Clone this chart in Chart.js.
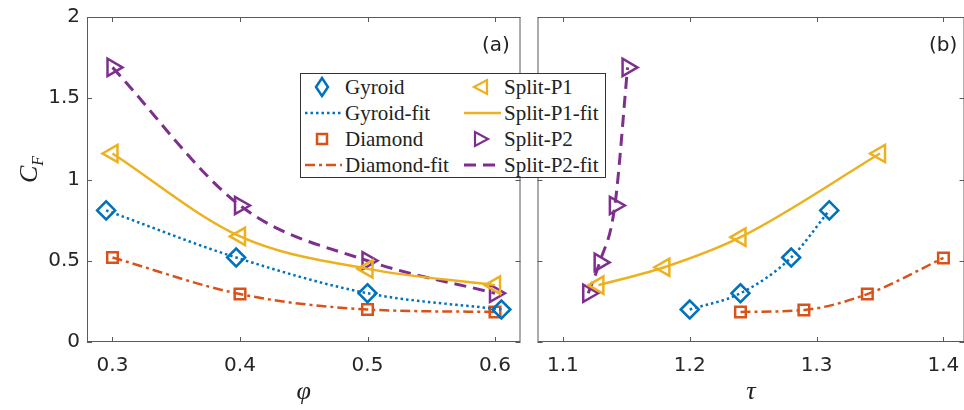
<!DOCTYPE html>
<html>
<head>
<meta charset="utf-8">
<script src="https://cdn.jsdelivr.net/npm/chart.js@4.4.0/dist/chart.umd.min.js"></script>
<style>
  html, body { margin: 0; padding: 0; background: #fff; }
  #wrap { position: relative; width: 964px; height: 410px; overflow: hidden; }
  canvas { position: absolute; top: 0; }
  #cA { left: 0px; }
  #cB { left: 529px; }
  .lab { position: absolute; font-family: "DejaVu Sans", sans-serif; font-size: 20px; color: #222; }
  #ytitle { position: absolute; left: 9px; top: 148px; width: 40px; height: 30px;
    transform: rotate(-90deg); transform-origin: center; font-family: "Liberation Serif", serif;
    font-style: italic; font-size: 26px; color: #222; white-space: nowrap; }
  #ytitle sub { font-size: 16px; }
  #legend { position: absolute; left: 300px; top: 73px; width: 304px; height: 103px;
    border: 1px solid #333; background: #fff; font-family: "Liberation Serif", serif;
    font-size: 21px; color: #222; z-index: 5; }
  .row { position: absolute; height: 26px; line-height: 26px; white-space: nowrap; }
  .row svg { position: absolute; top: 0; left: 0; }
  .row span { position: absolute; top: 0; }
</style>
</head>
<body>
<div id="wrap">
  <canvas id="cA" width="529" height="410"></canvas>
  <canvas id="cB" width="435" height="410"></canvas>
  <div class="lab" style="left:482px; top:32px;">(a)</div>
  <div class="lab" style="left:929px; top:32px;">(b)</div>
  <div id="ytitle">C<sub>F</sub></div>
  <div id="legend"></div>
</div>
<script>
// panel (a): C_F against porosity phi
const phiGyroid = [0.295, 0.397, 0.5, 0.605];
const phiDiamond = [0.3, 0.4, 0.5, 0.6];
const phiSplitP1 = [0.3, 0.4, 0.5, 0.6];
const phiSplitP2 = [0.3, 0.4, 0.5, 0.6];
const cfGyroidA = [0.81, 0.52, 0.30, 0.20];
const cfDiamondA = [0.52, 0.295, 0.20, 0.185];
const cfSplitP1A = [1.16, 0.65, 0.45, 0.35];
const cfSplitP2A = [1.69, 0.84, 0.50, 0.30];

// panel (b): C_F against tortuosity tau
const tauGyroid = [1.20, 1.24, 1.28, 1.31];
const tauDiamond = [1.24, 1.29, 1.34, 1.40];
const tauSplitP1 = [1.128, 1.18, 1.24, 1.35];
const tauSplitP2 = [1.12, 1.129, 1.141, 1.151];
const cfGyroidB = [0.20, 0.30, 0.52, 0.81];
const cfDiamondB = [0.185, 0.197, 0.295, 0.517];
const cfSplitP1B = [0.35, 0.46, 0.645, 1.16];
const cfSplitP2B = [0.30, 0.49, 0.84, 1.69];

const yTicks = [0, 0.5, 1, 1.5, 2];

const BLUE = "#0072BD", RED = "#D95319", YELLOW = "#EDB120", PURPLE = "#7E2F8E";

const series = [
  { name: "Gyroid", color: BLUE, style: "rectRot", radius: 9, rot: 0, dash: [2.5, 3], width: 2.5 },
  { name: "Diamond", color: RED, style: "rect", radius: 7.5, rot: 0, dash: [10, 4, 3, 4], width: 2.5 },
  { name: "Split-P1", color: YELLOW, style: "triangle", radius: 10, rot: -90, dash: [], width: 2.5 },
  { name: "Split-P2", color: PURPLE, style: "triangle", radius: 10, rot: 90, dash: [12, 7], width: 3 },
];

function makeData(xs, ys) {
  return xs.map((x, i) => ({ x: x, y: ys[i] }));
}

function makeDatasets(pairs) {
  return series.map((s, i) => ({
    label: s.name,
    data: makeData(pairs[i][0], pairs[i][1]),
    showLine: true,
    cubicInterpolationMode: "monotone",
    borderColor: s.color,
    borderWidth: s.width,
    borderDash: s.dash,
    pointStyle: s.style,
    pointRadius: s.radius,
    pointRotation: s.rot,
    pointBorderColor: s.color,
    pointBackgroundColor: "rgba(0,0,0,0)",
    pointBorderWidth: 2.5,
  }));
}

// box round the plot area plus MATLAB-style inward ticks
const framePlugin = {
  id: "frame",
  beforeDatasetsDraw(chart) {
    const { ctx, chartArea: a, scales } = chart;
    const x = scales.x, y = scales.y;
    ctx.save();
    ctx.strokeStyle = "#5a5a5a";
    ctx.lineWidth = 1;
    ctx.strokeRect(a.left + 0.5, a.top + 0.5, a.right - a.left - 1, a.bottom - a.top - 1);
    ctx.beginPath();
    x.ticks.forEach((t) => {
      const px = Math.round(x.getPixelForValue(t.value)) + 0.5;
      ctx.moveTo(px, a.bottom); ctx.lineTo(px, a.bottom - 5);
      ctx.moveTo(px, a.top); ctx.lineTo(px, a.top + 5);
    });
    y.ticks.forEach((t) => {
      const py = Math.round(y.getPixelForValue(t.value)) + 0.5;
      ctx.moveTo(a.left, py); ctx.lineTo(a.left + 5, py);
      ctx.moveTo(a.right, py); ctx.lineTo(a.right - 5, py);
    });
    ctx.stroke();
    ctx.restore();
  },
};

const tickFont = { family: "DejaVu Sans", size: 20 };
const titleFont = { family: "Liberation Serif", size: 26, style: "italic" };

function makeChart(canvas, datasets, xmin, xmax, xtitle, yLabels, yWidth) {
  return new Chart(canvas, {
    type: "scatter",
    data: { datasets: datasets },
    options: {
      responsive: false,
      maintainAspectRatio: false,
      animation: false,
      layout: { padding: { left: 0, right: 0, top: 17, bottom: 0 } },
      plugins: { legend: { display: false }, tooltip: { enabled: false } },
      scales: {
        x: {
          type: "linear",
          min: xmin,
          max: xmax,
          grid: { display: false, drawTicks: false },
          border: { display: false },
          ticks: {
            stepSize: 0.1,
            includeBounds: false,
            maxRotation: 0,
            padding: 12,
            color: "#262626",
            font: tickFont,
            callback: (v) => v.toFixed(1),
          },
          title: { display: true, text: xtitle, color: "#222", font: titleFont, padding: { top: 0, bottom: 2 } },
          afterFit: (s) => { s.height = 68; },
        },
        y: {
          min: 0,
          max: 2,
          // grid hidden; tickLength only spaces the labels from the frame
          grid: { display: false, drawTicks: true, tickLength: 2 },
          border: { display: false },
          afterBuildTicks: (s) => { s.ticks = yTicks.map((v) => ({ value: v })); },
          ticks: {
            padding: 5,
            color: "#262626",
            font: tickFont,
            callback: (v) => (yLabels ? String(v) : ""),
          },
          afterFit: (s) => { s.width = yWidth; },
        },
      },
    },
    plugins: [framePlugin],
  });
}

// Chart.js adds its own padding for edge tick labels, so rebuild the chart a few
// times, moving/widening the canvas until the plot box sits where the figure has it.
function placeChart(id, build, plotLeft, plotRight, yWidth) {
  const canvas = document.getElementById(id);
  let left = plotLeft - yWidth;
  let width = plotRight - left;
  let chart = null;
  for (let i = 0; i < 5; i++) {
    if (chart) chart.destroy();
    canvas.width = Math.round(width);
    canvas.height = 410;
    canvas.style.left = left + "px";
    chart = build(canvas);
    const a = chart.chartArea;
    const dl = plotLeft - (left + a.left);
    const dr = plotRight - (left + a.right);
    if (Math.abs(dl) < 0.5 && Math.abs(dr) < 0.5) break;
    left += dl;
    width += dr - dl;
  }
  return chart;
}

placeChart("cA", (c) => makeChart(c, makeDatasets([
  [phiGyroid, cfGyroidA],
  [phiDiamond, cfDiamondA],
  [phiSplitP1, cfSplitP1A],
  [phiSplitP2, cfSplitP2A],
]), 0.28, 0.62, "\u03C6", true, 87), 87, 521, 87);

placeChart("cB", (c) => makeChart(c, makeDatasets([
  [tauGyroid, cfGyroidB],
  [tauDiamond, cfDiamondB],
  [tauSplitP1, cfSplitP1B],
  [tauSplitP2, cfSplitP2B],
]), 1.08, 1.4166, "\u03C4", false, 8), 537, 964, 8);

// legend: two columns, marker entry then fit-line entry for each series
function markerSvg(s) {
  const c = s.color;
  let shape = "";
  if (s.style === "rectRot") shape = `<polygon points="19,4 25,13 19,22 13,13" fill="none" stroke="${c}" stroke-width="2.5"/>`;
  else if (s.style === "rect") shape = `<rect x="14" y="8" width="10" height="10" fill="none" stroke="${c}" stroke-width="2.5"/>`;
  else if (s.rot < 0) shape = `<polygon points="12,13 25,6 25,20" fill="none" stroke="${c}" stroke-width="2.2"/>`;
  else shape = `<polygon points="26,13 13,6 13,20" fill="none" stroke="${c}" stroke-width="2.2"/>`;
  return `<svg width="40" height="26">${shape}</svg>`;
}
function lineSvg(s) {
  const dash = s.dash.length ? `stroke-dasharray="${s.dash.join(" ")}"` : "";
  return `<svg width="40" height="26"><line x1="2" y1="13" x2="39" y2="13" stroke="${s.color}" stroke-width="${s.width}" ${dash}/></svg>`;
}
const legend = document.getElementById("legend");
let html = "";
series.forEach((s, i) => {
  const col = Math.floor(i / 2);
  const left = col === 0 ? 2 : 161;
  const r0 = (i % 2) * 2;
  html += `<div class="row" style="left:${left}px; top:${r0 * 26}px;">${markerSvg(s)}<span style="left:42px">${s.name}</span></div>`;
  html += `<div class="row" style="left:${left}px; top:${(r0 + 1) * 26}px;">${lineSvg(s)}<span style="left:42px">${s.name}-fit</span></div>`;
});
legend.innerHTML = html;
</script>
</body>
</html>
